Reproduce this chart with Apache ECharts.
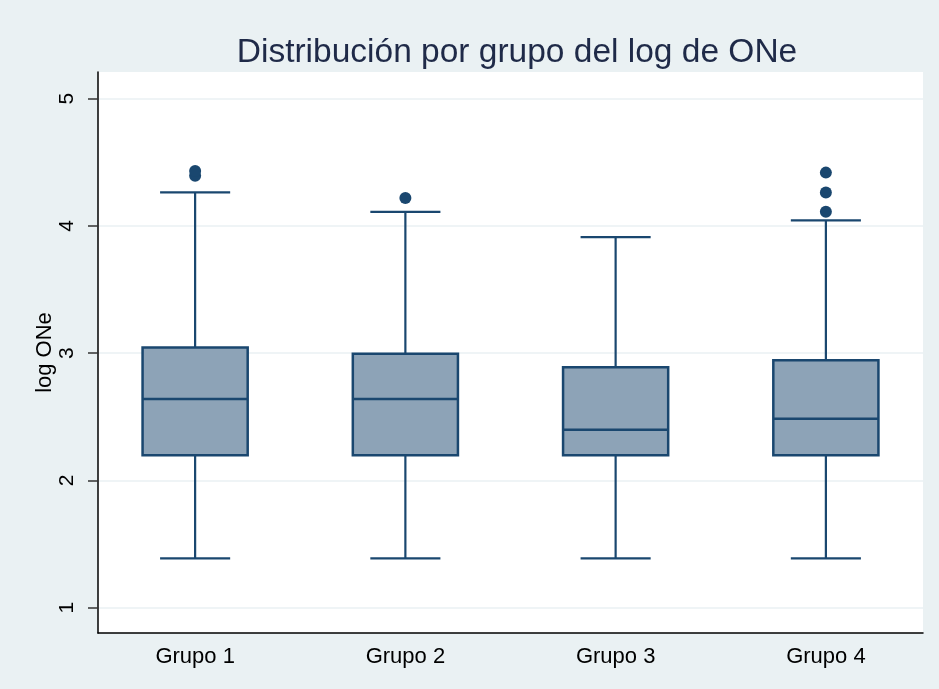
<!DOCTYPE html>
<html>
<head>
<meta charset="utf-8">
<script src="https://cdn.jsdelivr.net/npm/echarts@6/dist/echarts.min.js"></script>
<style>
  html, body { margin: 0; padding: 0; background: #eaf1f3; }
  #chart { width: 939px; height: 689px; }
</style>
</head>
<body>
<div id="chart"></div>
<script>
// data (log scale values)
const groups = ['Grupo 1', 'Grupo 2', 'Grupo 3', 'Grupo 4']
const lowerWhisker = [1.386, 1.386, 1.386, 1.386]
const q1 = [2.197, 2.197, 2.197, 2.197]
const median = [2.639, 2.639, 2.398, 2.485]
const q3 = [3.045, 2.996, 2.890, 2.944]
const upperWhisker = [4.263, 4.111, 3.912, 4.043]
const outliers = [
  [0, 4.394], [0, 4.431],
  [1, 4.220],
  [3, 4.111], [3, 4.263], [3, 4.419]
]
const yTicks = [1, 2, 3, 4, 5]

const navy = '#1a476f'
const boxFill = '#8da3b7'
const fontFam = 'Liberation Sans, Arial, sans-serif'

const boxData = groups.map((g, i) => [i, lowerWhisker[i], q1[i], median[i], q3[i], upperWhisker[i]])

const renderBox = (params, api) => {
  const i = api.value(0)
  const band = api.size([1, 0])[0]
  const bw = band * 0.5
  const cw = bw * 2 / 3
  const pLow = api.coord([i, api.value(1)])
  const pQ1 = api.coord([i, api.value(2)])
  const pMed = api.coord([i, api.value(3)])
  const pQ3 = api.coord([i, api.value(4)])
  const pHigh = api.coord([i, api.value(5)])
  const cx = pLow[0]
  const line = { stroke: navy, lineWidth: 2.2 }
  return {
    type: 'group',
    children: [
      { type: 'line', shape: { x1: cx, y1: pLow[1], x2: cx, y2: pQ1[1] }, style: line },
      { type: 'line', shape: { x1: cx, y1: pQ3[1], x2: cx, y2: pHigh[1] }, style: line },
      { type: 'line', shape: { x1: cx - cw / 2, y1: pLow[1], x2: cx + cw / 2, y2: pLow[1] }, style: line },
      { type: 'line', shape: { x1: cx - cw / 2, y1: pHigh[1], x2: cx + cw / 2, y2: pHigh[1] }, style: line },
      {
        type: 'rect',
        shape: { x: cx - bw / 2, y: pQ3[1], width: bw, height: pQ1[1] - pQ3[1] },
        style: { fill: boxFill, stroke: navy, lineWidth: 2.5 }
      },
      { type: 'line', shape: { x1: cx - bw / 2, y1: pMed[1], x2: cx + bw / 2, y2: pMed[1] }, style: { stroke: navy, lineWidth: 2.5 } }
    ]
  }
}

const chart = echarts.init(document.getElementById('chart'))

chart.setOption({
  backgroundColor: '#eaf1f3',
  animation: false,
  title: {
    text: 'Distribución por grupo del log de ONe',
    left: 512,
    textAlign: 'center',
    top: 31,
    textStyle: { fontFamily: fontFam, fontSize: 33.5, fontWeight: 'normal', color: '#1f2a48' }
  },
  grid: [
    // white plot area with the y axis
    { left: 98, right: 16, top: 72, bottom: 56, show: true, backgroundColor: '#fff', borderWidth: 0 },
    // boxes and group labels
    { left: 90, right: 8, top: 72, bottom: 56 }
  ],
  xAxis: [
    {
      gridIndex: 0, type: 'value', min: 0, max: 1,
      axisLine: { show: true, lineStyle: { color: '#000', width: 1.5 } },
      axisTick: { show: false }, axisLabel: { show: false }, splitLine: { show: false }
    },
    {
      gridIndex: 1, type: 'category', data: groups,
      axisLine: { show: false }, axisTick: { show: false },
      axisLabel: { fontFamily: fontFam, fontSize: 22, color: '#000', margin: 13 }
    }
  ],
  yAxis: [
    {
      gridIndex: 0, type: 'value', min: 0.8, max: 5.21,
      name: 'log ONe', nameLocation: 'middle', nameGap: 42, nameMoveOverlap: false,
      nameTextStyle: { fontFamily: fontFam, fontSize: 22, color: '#000' },
      axisLine: { show: true, lineStyle: { color: '#000', width: 1.5 } },
      axisTick: { show: true, length: 10, lineStyle: { color: '#333', width: 1.5 }, customValues: yTicks },
      axisLabel: {
        fontFamily: fontFam, fontSize: 21, color: '#000', rotate: 90, margin: 20,
        customValues: yTicks
      },
      splitLine: { show: true, lineStyle: { color: '#eaf1f3', width: 1.5 } }
    },
    {
      gridIndex: 1, type: 'value', min: 0.8, max: 5.21, show: false
    }
  ],
  series: [
    {
      type: 'custom',
      xAxisIndex: 1, yAxisIndex: 1,
      renderItem: renderBox,
      encode: { x: 0, y: [1, 2, 3, 4, 5] },
      data: boxData
    },
    {
      type: 'scatter',
      xAxisIndex: 1, yAxisIndex: 1,
      symbol: 'circle', symbolSize: 12,
      itemStyle: { color: navy, opacity: 1 },
      data: outliers
    }
  ]
})
</script>
</body>
</html>
